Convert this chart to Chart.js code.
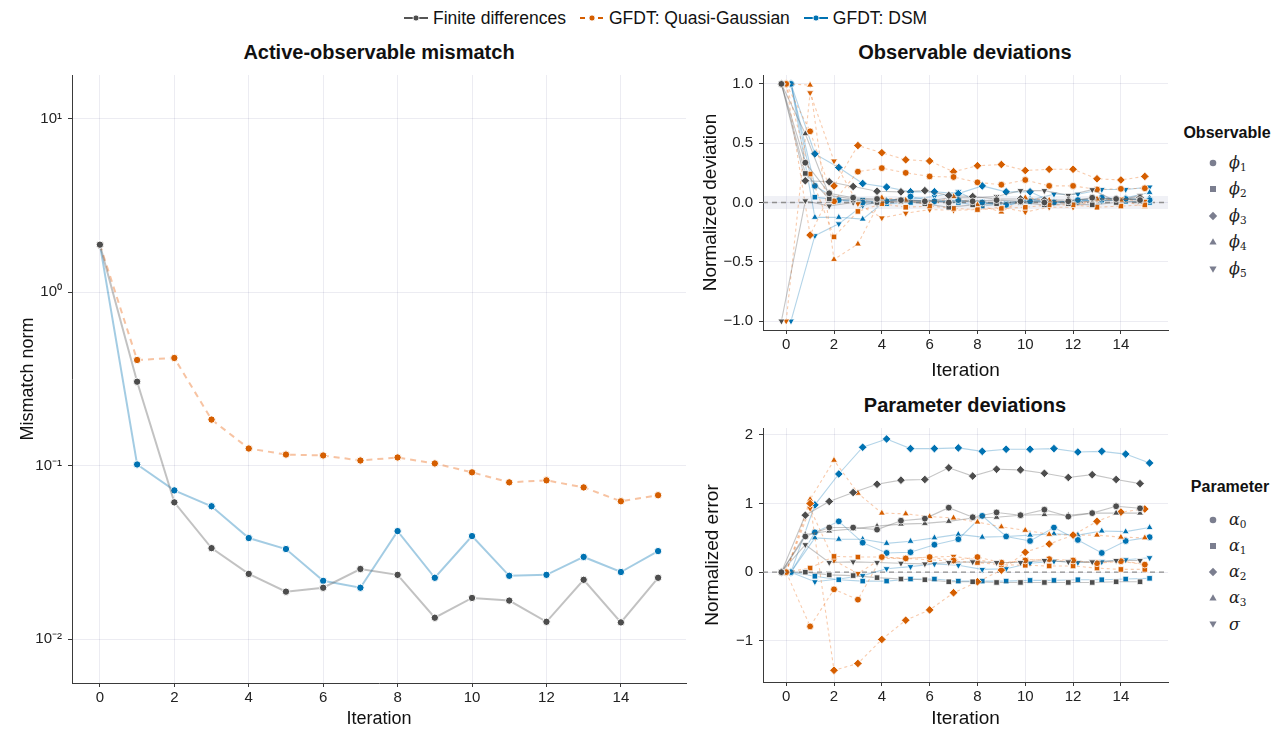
<!DOCTYPE html>
<html>
<head>
<meta charset="utf-8">
<script src="https://cdn.jsdelivr.net/npm/chart.js@4.4.0/dist/chart.umd.min.js"></script>
<style>
  html,body{margin:0;padding:0;background:#fff;}
  body{width:1280px;height:730px;position:relative;overflow:hidden;font-family:"Liberation Sans",Arial,Helvetica,sans-serif;color:#111;}
  canvas{position:absolute;}
  .ptitle{position:absolute;font-weight:bold;font-size:20px;transform:translate(-50%,-50%);white-space:nowrap;color:#111;}
  .toplegend{position:absolute;left:403px;top:6px;height:24px;display:flex;align-items:center;font-size:17.5px;white-space:nowrap;}
  .toplegend .item{display:flex;align-items:center;margin-right:13px;}
  .toplegend svg{margin-right:4px;}
  .ltitle{position:absolute;font-weight:bold;font-size:16px;transform:translate(-50%,-50%);white-space:nowrap;}
  .lrow{position:absolute;height:20px;display:flex;align-items:center;transform:translateY(-50%);}
  .lrow .lab{font-family:"DejaVu Serif","Liberation Serif",serif;font-style:italic;font-size:16px;color:#222;margin-left:10px;}
  .lrow .lab sub{font-style:normal;font-size:10.5px;vertical-align:-3px;}
</style>
</head>
<body>
<div class="toplegend" id="toplegend"></div>
<div class="ptitle" style="left:379px;top:52px">Active-observable mismatch</div>
<div class="ptitle" style="left:965px;top:52px">Observable deviations</div>
<div class="ptitle" style="left:965px;top:405px">Parameter deviations</div>
<div id="obsLegend"></div>
<div id="parLegend"></div>
<canvas id="cMismatch" width="700" height="670" style="left:0px;top:60px"></canvas>
<canvas id="cObs" width="490" height="325" style="left:690px;top:60px"></canvas>
<canvas id="cPar" width="490" height="317" style="left:690px;top:413px"></canvas>
<script>
// ---------------- DATA ----------------
const iterations = [0,1,2,3,4,5,6,7,8,9,10,11,12,13,14,15];
const xTickValues = [0,2,4,6,8,10,12,14];
const logTickValues = [0.01,0.1,1,10];
const logTickLabels = ['10\u207B\u00B2','10\u207B\u00B9','10\u2070','10\u00B9'];
const obsTickValues = [-1,-0.5,0,0.5,1];
const obsTickLabels = ['\u22121.0','\u22120.5','0.0','0.5','1.0'];
const parTickValues = [-1,0,1,2];
const parTickLabels = ['\u22121','0','1','2'];

const methodNames = ['Finite differences','GFDT: Quasi-Gaussian','GFDT: DSM'];
const observableNames = ['1','2','3','4','5'];          // phi subscripts
const parameterNames = [['\u03B1','0'],['\u03B1','1'],['\u03B1','2'],['\u03B1','3'],['\u03C3','']];

// Active-observable mismatch norm
const mismatchFD  = [1.88,0.305,0.0615,0.0335,0.0238,0.0188,0.0198,0.0254,0.0235,0.0133,0.0173,0.0167,0.0126,0.0220,0.0125,0.0226];
const mismatchQG  = [1.88,0.407,0.418,0.1845,0.1257,0.116,0.1146,0.1072,0.1116,0.1031,0.0916,0.0802,0.0824,0.0750,0.0624,0.0676];
const mismatchDSM = [1.88,0.1017,0.0721,0.0584,0.0383,0.0331,0.0217,0.0198,0.0420,0.0226,0.0393,0.0232,0.0235,0.0298,0.0244,0.0322];

// Observable deviations (rows: phi1..phi5)
const obsDevFD = [
  [1,0.336,0.078,0.04,0.03,0.02,0.01,0.0,0.01,0.02,0.01,0.0,0.01,0.04,0.03,0.02],
  [1,0.245,0.03,0.02,0.0,0.01,-0.01,-0.04,-0.02,-0.01,0.0,-0.02,-0.01,-0.02,0.0,0.01],
  [1,0.183,0.175,0.135,0.095,0.09,0.1,0.06,0.05,0.03,0.03,0.02,0.02,0.03,0.03,0.04],
  [1,0.58,0.06,0.03,0.02,0.0,0.02,0.01,0.02,-0.01,0.01,0.01,0.0,0.01,0.02,0.03],
  [-1,0.014,-0.03,0.0,-0.01,0.03,0.005,0.04,0.04,0.05,0.1,0.1,0.06,0.108,0.01,0.06]
];
const obsDevQG = [
  [1,0.60,0.01,0.26,0.29,0.25,0.22,0.215,0.17,0.15,0.19,0.14,0.14,0.11,0.115,0.12],
  [1,0.24,-0.29,-0.075,-0.01,-0.04,-0.03,-0.05,-0.06,-0.05,-0.04,-0.02,-0.02,-0.04,-0.03,-0.02],
  [1,-0.275,0.14,0.48,0.42,0.36,0.35,0.26,0.31,0.32,0.27,0.28,0.28,0.20,0.19,0.22],
  [1,0.99,-0.48,-0.35,0.04,0.02,-0.02,0.05,-0.02,-0.08,0.04,0.02,-0.02,0.03,0.02,-0.035],
  [-1,0.925,0.35,-0.01,-0.13,-0.09,-0.06,-0.065,-0.06,-0.04,-0.08,-0.04,-0.04,0.03,0.03,0.01]
];
const obsDevDSM = [
  [1,0.14,0.02,0.0,0.01,0.05,0.01,0.02,0.0,-0.02,0.01,0.0,0.02,0.04,0.03,0.02],
  [1,0.045,0.02,0.02,-0.01,0.0,0.01,0.0,-0.03,-0.01,0.02,0.0,0.02,0.02,0.01,0.0],
  [1,0.41,0.295,0.16,0.13,0.09,0.09,0.075,0.14,0.09,0.09,0.0,0.01,0.02,0.03,0.03],
  [1,-0.125,-0.125,-0.14,0.02,0.02,0.01,0.01,0.0,-0.03,0.03,0.0,0.01,0.03,0.04,0.085],
  [-1,-0.28,-0.18,-0.025,0.02,0.03,0.05,0.09,-0.01,0.0,0.02,0.07,0.07,0.11,0.11,0.13]
];

// Parameter deviations (rows: alpha0, alpha1, alpha2, alpha3, sigma)
const parDevFD = [
  [0,0.52,0.65,0.65,0.62,0.75,0.78,0.94,0.80,0.87,0.83,0.91,0.81,0.86,0.96,0.93],
  [0,0.0,-0.04,-0.05,-0.08,-0.10,-0.11,-0.14,-0.14,-0.15,-0.15,-0.15,-0.15,-0.15,-0.14,-0.14],
  [0,0.83,1.03,1.16,1.28,1.34,1.35,1.52,1.40,1.50,1.49,1.44,1.38,1.42,1.35,1.29],
  [0,0.55,0.60,0.63,0.67,0.70,0.71,0.74,0.79,0.80,0.83,0.84,0.83,0.86,0.86,0.86],
  [0,0.40,0.14,0.15,0.14,0.13,0.12,0.14,0.15,0.14,0.14,0.17,0.15,0.15,0.17,0.17]
];
const parDevQG = [
  [0,-0.79,-0.25,-0.40,0.22,0.20,0.22,0.17,0.22,0.14,0.17,0.19,0.17,0.13,0.16,0.11],
  [0,0.06,0.23,0.22,0.22,0.20,0.18,0.16,0.14,0.11,0.10,0.09,0.09,0.06,0.04,0.04],
  [0,1.0,-1.43,-1.33,-0.98,-0.70,-0.55,-0.30,-0.14,0.03,0.29,0.41,0.54,0.74,0.875,0.92],
  [0,1.06,1.63,1.15,0.86,0.85,0.81,0.79,0.73,0.66,0.61,0.55,0.54,0.54,0.51,0.50],
  [0,0.93,0.17,-0.02,0.20,0.20,0.22,0.23,0.18,0.12,0.18,0.18,0.15,0.14,0.16,0.12]
];
const parDevDSM = [
  [0,0.58,0.74,0.43,0.28,0.29,0.40,0.48,0.82,0.52,0.455,0.65,0.47,0.28,0.455,0.51],
  [0,-0.06,-0.11,-0.13,-0.13,-0.10,-0.10,-0.13,-0.13,-0.13,-0.12,-0.12,-0.11,-0.11,-0.10,-0.09],
  [0,0.98,1.43,1.82,1.94,1.80,1.80,1.81,1.76,1.79,1.79,1.80,1.75,1.76,1.72,1.59],
  [0,0.50,0.48,0.48,0.42,0.45,0.50,0.55,0.51,0.52,0.54,0.56,0.54,0.60,0.59,0.65],
  [0,-0.14,-0.10,-0.05,0.05,0.08,0.12,0.10,0.04,0.05,0.13,0.16,0.14,0.15,0.18,0.21]
];

// ---------------- STYLE ----------------
Chart.defaults.font.family = '"Liberation Sans", Arial, Helvetica, sans-serif';
Chart.defaults.color = '#222';
const GRID = 'rgba(40,40,100,0.085)';
const SPINE = '#3a3a3a';
const methodStyle = [
  {point:'#4d4d4d', line:'rgba(95,95,95,0.36)',  bigLine:'rgba(95,95,95,0.38)',  dash:[],    bigDash:[],    offset:-0.2},
  {point:'#d55e00', line:'rgba(238,130,60,0.42)', bigLine:'rgba(238,130,60,0.48)', dash:[3,3], bigDash:[6,5], offset:0},
  {point:'#0072b2', line:'rgba(0,114,178,0.30)',  bigLine:'rgba(0,114,178,0.36)',  dash:[],    bigDash:[],    offset:0.2}
];
const shapeStyle = [
  {ps:'circle',  rot:0,   r:3.4},
  {ps:'rect',    rot:0,   r:3.9},
  {ps:'rectRot', rot:0,   r:4.3},
  {ps:'triangle',rot:0,   r:4.0},
  {ps:'triangle',rot:180, r:4.0}
];
const LEGEND_GRAY = '#7b7e8f';

// ---------------- HELPERS ----------------
function xScale(min, max, height, titlePad, titleSize) {
  return {
    type:'linear', min:min, max:max,
    afterBuildTicks: s => { s.ticks = xTickValues.map(v => ({value:v})); },
    afterFit: s => { s.height = height; },
    ticks:{ font:{size:15}, color:'#222', padding:2, maxRotation:0, autoSkip:false, callback:(v)=>String(v) },
    grid:{ color:GRID, tickColor:SPINE, tickLength:4, drawTicks:true, lineWidth:1 },
    border:{ display:true, color:SPINE, width:1 },
    title:{ display:true, text:'Iteration', font:{size:titleSize}, color:'#111', padding:{top:0,bottom:titlePad} }
  };
}
function yScale(type, min, max, width, values, labels, titleText, titlePad, titleSize) {
  return {
    type:type, min:min, max:max,
    afterBuildTicks: s => { s.ticks = values.map(v => ({value:v})); },
    afterFit: s => { s.width = width; },
    ticks:{ font:{size:15}, color:'#222', padding:6, autoSkip:false, callback:(v,i)=>labels[i] },
    grid:{ color:GRID, tickColor:SPINE, tickLength:4, drawTicks:true, lineWidth:1 },
    border:{ display:true, color:SPINE, width:1 },
    title:{ display:true, text:titleText, font:{size:titleSize}, color:'#111', padding:{top:titlePad,bottom:0} }
  };
}
const zeroLinePlugin = {
  id:'zeroLine',
  beforeDatasetsDraw(chart, args, opts) {
    const {ctx, chartArea:a, scales:{y}} = chart;
    ctx.save();
    if (opts.band) {
      const y1 = y.getPixelForValue(opts.band), y2 = y.getPixelForValue(-opts.band);
      ctx.fillStyle = 'rgba(90,100,150,0.09)';
      ctx.fillRect(a.left, y1, a.right - a.left, y2 - y1);
    }
    const y0 = y.getPixelForValue(0);
    ctx.setLineDash([5,4]);
    ctx.strokeStyle = '#8f8f8f';
    ctx.lineWidth = 1.3;
    ctx.beginPath(); ctx.moveTo(a.left, y0); ctx.lineTo(a.right, y0); ctx.stroke();
    ctx.restore();
  }
};
function baseOptions(padding) {
  return {
    responsive:false, animation:false, devicePixelRatio:1,
    layout:{ padding:padding },
    plugins:{ legend:{display:false}, tooltip:{enabled:false}, title:{display:false} },
    events:[]
  };
}
function dodged(vals, off) { return vals.map((v,i) => ({x: iterations[i] + off, y: v})); }

// ---------------- LEFT: MISMATCH ----------------
const mismatchSeries = [mismatchFD, mismatchQG, mismatchDSM];
const leftDatasets = mismatchSeries.map((vals, m) => ({
  label: methodNames[m],
  data: vals.map((v,i) => ({x: iterations[i], y: v})),
  borderColor: methodStyle[m].bigLine,
  borderDash: methodStyle[m].bigDash,
  borderWidth: 2,
  tension: 0,
  pointStyle:'circle',
  pointRadius: 3.7,
  pointBackgroundColor: methodStyle[m].point,
  pointBorderColor: '#ffffff',
  pointBorderWidth: 1
}));
const leftOpts = baseOptions({left:0, top:12, right:14, bottom:0});
leftOpts.scales = {
  x: xScale(-0.75, 15.75, 47, 0, 18),
  y: yScale('logarithmic', Math.pow(10,-2.2524), Math.pow(10,1.2524), 72, logTickValues, logTickLabels, 'Mismatch norm', 17, 18)
};
new Chart(document.getElementById('cMismatch'), { type:'line', data:{datasets:leftDatasets}, options:leftOpts });

// ---------------- RIGHT: panels ----------------
function panelDatasets(series) {
  const ds = [];
  series.forEach((rows, m) => {
    rows.forEach((vals, k) => {
      ds.push({
        data: dodged(vals, methodStyle[m].offset),
        borderColor: methodStyle[m].line,
        borderDash: methodStyle[m].dash,
        borderWidth: 1.1,
        tension: 0,
        pointStyle: shapeStyle[k].ps,
        pointRotation: shapeStyle[k].rot,
        pointRadius: shapeStyle[k].r,
        pointBackgroundColor: methodStyle[m].point,
        pointBorderColor: '#ffffff',
        pointBorderWidth: 0.8
      });
    });
  });
  return ds;
}
const obsOpts = baseOptions({left:0, top:12, right:12, bottom:0});
obsOpts.plugins.zeroLine = {band:0.055};
obsOpts.scales = {
  x: xScale(-0.97, 15.97, 55, 3, 19),
  y: yScale('linear', -1.075, 1.075, 73, obsTickValues, obsTickLabels, 'Normalized deviation', 9, 19)
};
new Chart(document.getElementById('cObs'), {
  type:'line', data:{datasets: panelDatasets([obsDevFD, obsDevQG, obsDevDSM])},
  options: obsOpts, plugins:[zeroLinePlugin]
});

const parOpts = baseOptions({left:0, top:10, right:12, bottom:0});
parOpts.plugins.zeroLine = {band:0};
parOpts.scales = {
  x: xScale(-0.97, 15.97, 48, 0, 19),
  y: yScale('linear', -1.6, 2.1, 73, parTickValues, parTickLabels, 'Normalized error', 11, 19)
};
new Chart(document.getElementById('cPar'), {
  type:'line', data:{datasets: panelDatasets([parDevFD, parDevQG, parDevDSM])},
  options: parOpts, plugins:[zeroLinePlugin]
});

// ---------------- LEGENDS (HTML) ----------------
(function(){
  const tl = document.getElementById('toplegend');
  methodNames.forEach((name, m) => {
    const st = methodStyle[m];
    const dash = st.bigDash.length ? 'stroke-dasharray="5,4"' : '';
    const col = m === 0 ? '#555' : st.point;
    tl.insertAdjacentHTML('beforeend',
      `<span class="item"><svg width="26" height="12"><line x1="1" y1="6" x2="25" y2="6" stroke="${col}" stroke-width="2" ${dash}/>` +
      `<circle cx="13" cy="6" r="3" fill="${st.point}" stroke="#fff" stroke-width="0.8"/></svg>${name}</span>`);
  });
  function markerSVG(k) {
    const c = LEGEND_GRAY;
    const shapes = [
      `<circle cx="6" cy="6" r="3.3" fill="${c}"/>`,
      `<rect x="3" y="3" width="6" height="6" fill="${c}"/>`,
      `<polygon points="6,1.8 10.2,6 6,10.2 1.8,6" fill="${c}"/>`,
      `<polygon points="6,2.3 9.6,8.6 2.4,8.6" fill="${c}"/>`,
      `<polygon points="6,9.7 9.6,3.4 2.4,3.4" fill="${c}"/>`
    ];
    return `<svg width="12" height="12">${shapes[k]}</svg>`;
  }
  const ol = document.getElementById('obsLegend');
  ol.insertAdjacentHTML('beforeend', `<div class="ltitle" style="left:1227px;top:133px">Observable</div>`);
  const obsY = [163,189,216,242,269];
  observableNames.forEach((sub, k) => {
    ol.insertAdjacentHTML('beforeend',
      `<div class="lrow" style="left:1207px;top:${obsY[k]}px">${markerSVG(k)}<span class="lab">\u03D5<sub>${sub}</sub></span></div>`);
  });
  const pl = document.getElementById('parLegend');
  pl.insertAdjacentHTML('beforeend', `<div class="ltitle" style="left:1230px;top:487px">Parameter</div>`);
  const parY = [520,546,572,598,624];
  parameterNames.forEach((p, k) => {
    pl.insertAdjacentHTML('beforeend',
      `<div class="lrow" style="left:1207px;top:${parY[k]}px">${markerSVG(k)}<span class="lab">${p[0]}${p[1] ? '<sub>'+p[1]+'</sub>' : ''}</span></div>`);
  });
})();
</script>
</body>
</html>
